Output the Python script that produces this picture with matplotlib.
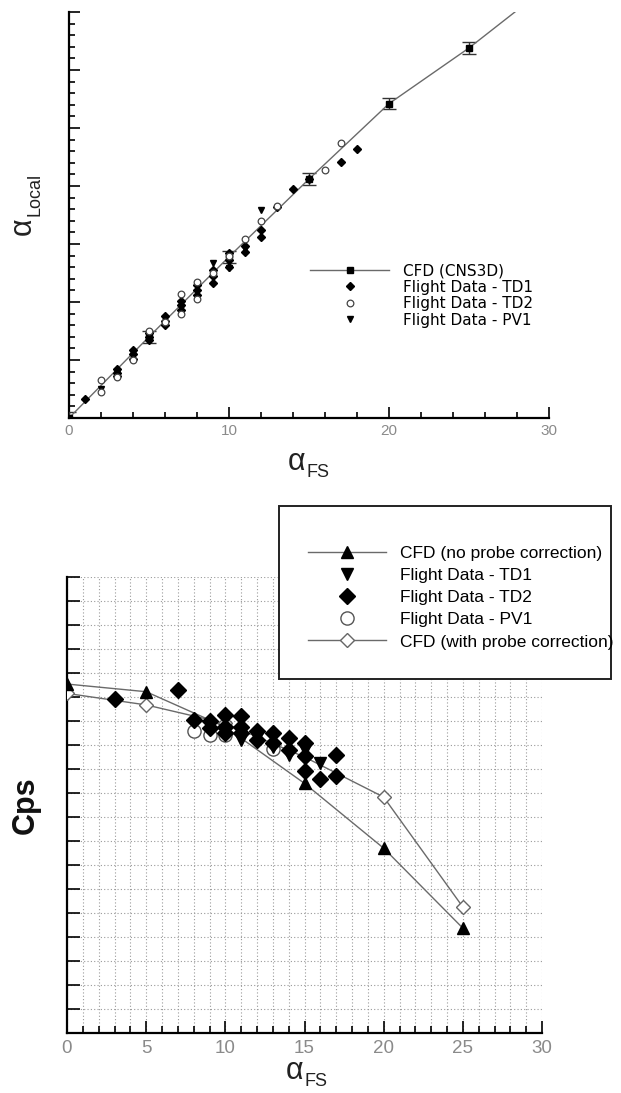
import matplotlib
matplotlib.use('Agg')
import matplotlib.pyplot as plt
from matplotlib.patches import Rectangle
from matplotlib.ticker import MultipleLocator

plt.rcParams['font.family'] = ['Liberation Sans', 'DejaVu Sans']

# ---------------- Top chart data (alpha_local vs alpha_FS) ----------------
cfd_x = [0, 5, 10, 15, 20, 25, 30]
cfd_y = [0.0, 7.0, 13.9, 20.6, 27.1, 31.9, 37.3]
cfd_err = [0.5, 0.5, 0.5, 0.5, 0.5, 0.5, 0.5]

td1_x = [1, 3, 3, 3, 4, 4, 4, 5, 5, 5, 6, 6, 6, 7, 7, 7, 8, 8, 8, 9, 9, 9,
         10, 10, 10, 11, 11, 12, 12, 13, 14, 15, 17, 18]
td1_y = [1.6, 3.6, 3.9, 4.2, 5.1, 5.5, 5.9, 6.7, 7.0, 7.3, 8.0, 8.4, 8.8,
         9.3, 9.7, 10.1, 10.6, 11.0, 11.5, 11.6, 12.2, 12.8, 13.0, 13.6, 14.2,
         14.3, 14.8, 15.6, 16.2, 18.2, 19.7, 20.6, 22.1, 23.2]

td2_x = [2, 2, 3, 4, 5, 6, 7, 7, 8, 8, 9, 10, 11, 12, 13, 16, 17]
td2_y = [3.3, 2.2, 3.5, 5.0, 7.5, 8.3, 10.7, 9.0, 11.7, 10.3, 12.5, 14.0,
         15.4, 17.0, 18.3, 21.4, 23.7]

pv1_x = [2, 3, 4, 5, 6, 7, 8, 9, 10, 11, 12]
pv1_y = [2.5, 3.9, 5.6, 6.9, 8.5, 9.5, 11.3, 13.4, 12.9, 14.6, 17.9]

top_xticks = [0, 10, 20, 30]

# ---------------- Bottom chart data (Cps vs alpha_FS) ----------------
cfd_nc_x = [0, 5, 10, 15, 20, 25]
cfd_nc_y = [-0.046, -0.078, -0.225, -0.46, -0.73, -1.063]

cfd_pc_x = [0, 5, 10, 15, 20, 25]
cfd_pc_y = [-0.085, -0.133, -0.21, -0.35, -0.517, -0.975]

b_td1_x = [9, 10, 11, 12, 13, 14, 15, 16]
b_td1_y = [-0.22, -0.24, -0.28, -0.27, -0.31, -0.34, -0.32, -0.375]

b_td2_x = [3, 7, 8, 9, 9, 10, 10, 10, 11, 11, 11, 12, 12, 13, 13, 14, 14,
           15, 15, 15, 16, 17, 17]
b_td2_y = [-0.11, -0.07, -0.196, -0.20, -0.23, -0.175, -0.225, -0.25, -0.18,
           -0.225, -0.25, -0.24, -0.28, -0.25, -0.29, -0.27, -0.32, -0.29,
           -0.345, -0.41, -0.44, -0.34, -0.43]

b_pv1_x = [8, 9, 10, 13]
b_pv1_y = [-0.24, -0.26, -0.26, -0.315]

bot_xticks = [0, 5, 10, 15, 20, 25, 30]

# ---------------- Figure ----------------
W, H = 621, 1093
fig = plt.figure(figsize=(W / 100, H / 100), dpi=100)


def fx(x):
    return x / W


def fy(y):
    return 1 - y / H


LINEC = '#6a6a6a'
TICKC = '#8a8a8a'

# ---- Top axes ----
ax1 = fig.add_axes([fx(69), fy(418), (549 - 69) / W, (418 - 12) / H])
ax1.set_xlim(0, 30)
ax1.set_ylim(0, 35)
for s in ['top', 'right']:
    ax1.spines[s].set_visible(False)
for s in ['left', 'bottom']:
    ax1.spines[s].set_linewidth(1.6)
ax1.set_xticks(top_xticks)
ax1.xaxis.set_minor_locator(MultipleLocator(2))
ax1.yaxis.set_major_locator(MultipleLocator(5))
ax1.yaxis.set_minor_locator(MultipleLocator(1))
ax1.tick_params(which='both', direction='in', width=1.2)
ax1.tick_params(which='major', length=8)
ax1.tick_params(which='minor', length=4.5)
ax1.tick_params(axis='y', labelleft=False)
ax1.tick_params(axis='x', labelsize=11, labelcolor=TICKC, pad=4)

ax1.errorbar(cfd_x, cfd_y, yerr=cfd_err, fmt='none', ecolor='#333333',
             elinewidth=1.0, capsize=5, zorder=3)
l_cfd, = ax1.plot(cfd_x, cfd_y, '-', color=LINEC, lw=1.0, marker='s', ms=5,
                  mfc='k', mec='k', label='CFD (CNS3D)', zorder=4)
l_td1, = ax1.plot(td1_x, td1_y, ls='none', marker='D', ms=3.6, mfc='k',
                  mec='k', label='Flight Data - TD1', zorder=5)
l_td2, = ax1.plot(td2_x, td2_y, ls='none', marker='o', ms=4.8, mfc='white',
                  mec='#444444', mew=0.9, label='Flight Data - TD2', zorder=6)
l_pv1, = ax1.plot(pv1_x, pv1_y, ls='none', marker='v', ms=4.8, mfc='k',
                  mec='k', label='Flight Data - PV1', zorder=5)

ax1.legend(handles=[l_cfd, l_td1, l_td2, l_pv1], loc='upper left',
           bbox_to_anchor=(fx(310), fy(263)), bbox_transform=fig.transFigure,
           frameon=False, prop={'family': 'DejaVu Sans', 'size': 11},
           handlelength=5.2, handletextpad=0.9,
           labelspacing=0.1, borderpad=0, borderaxespad=0, numpoints=1)

# top axis labels
fig.text(fx(297), fy(462), 'α', fontsize=22, ha='center', va='center',
         color='#222222')
fig.text(fx(307), fy(472), 'FS', fontsize=13, ha='left', va='center',
         color='#222222')
fig.text(fx(23), fy(226), 'α', fontsize=22, ha='center', va='center',
         rotation=90, color='#222222')
fig.text(fx(35), fy(216), 'Local', fontsize=13, ha='center', va='bottom',
         rotation=90, color='#222222')

# ---- Bottom axes ----
ax2 = fig.add_axes([fx(67), fy(1033), (542 - 67) / W, (1033 - 577) / H])
ax2.set_xlim(0, 30)
ax2.set_ylim(-1.5, 0.4)
for s in ['top', 'right']:
    ax2.spines[s].set_visible(False)
for s in ['left', 'bottom']:
    ax2.spines[s].set_linewidth(1.6)
ax2.set_xticks(bot_xticks)
ax2.xaxis.set_minor_locator(MultipleLocator(1))
ax2.yaxis.set_major_locator(MultipleLocator(0.1))
ax2.tick_params(which='both', direction='in', width=1.2)
ax2.tick_params(which='major', length=9)
ax2.tick_params(which='minor', length=5)
ax2.tick_params(axis='y', labelleft=False)
ax2.tick_params(axis='x', labelsize=13.5, labelcolor=TICKC, pad=5)
ax2.set_axisbelow(True)
ax2.grid(which='both', axis='x', ls=(0, (1, 2)), color='#9a9a9a', lw=0.8)
ax2.grid(which='major', axis='y', ls=(0, (1, 2)), color='#9a9a9a', lw=0.8)

l_pc, = ax2.plot(cfd_pc_x, cfd_pc_y, '-', color=LINEC, lw=1.0, marker='D',
                 ms=7.5, mfc='white', mec='#666666', mew=1.0,
                 label='CFD (with probe correction)', zorder=3)
l_nc, = ax2.plot(cfd_nc_x, cfd_nc_y, '-', color=LINEC, lw=1.0, marker='^',
                 ms=8.5, mfc='k', mec='k',
                 label='CFD (no probe correction)', zorder=3)
b_pv1, = ax2.plot(b_pv1_x, b_pv1_y, ls='none', marker='o', ms=9.5,
                  mfc='white', mec='#555555', mew=1.0,
                  label='Flight Data - PV1', zorder=4)
b_td1, = ax2.plot(b_td1_x, b_td1_y, ls='none', marker='v', ms=9, mfc='k',
                  mec='k', label='Flight Data - TD1', zorder=5)
b_td2, = ax2.plot(b_td2_x, b_td2_y, ls='none', marker='D', ms=8, mfc='k',
                  mec='k', label='Flight Data - TD2', zorder=6)

# legend box
box = Rectangle((fx(279), fy(679)), (611 - 279) / W, (679 - 506) / H,
                transform=fig.transFigure, facecolor='white',
                edgecolor='#222222', lw=1.4, zorder=4)
fig.add_artist(box)
leg2 = fig.legend(handles=[l_nc, b_td1, b_td2, b_pv1, l_pc], loc='upper left',
                  bbox_to_anchor=(fx(308), fy(546)),
                  bbox_transform=fig.transFigure, frameon=False,
                  fontsize=12.5, handlelength=4.5, handletextpad=0.8,
                  labelspacing=0.4, borderpad=0, borderaxespad=0,
                  numpoints=1)
leg2.set_zorder(6)

# bottom axis labels
fig.text(fx(295), fy(1071), 'α', fontsize=22, ha='center', va='center',
         color='#222222')
fig.text(fx(304), fy(1082), 'FS', fontsize=13, ha='left', va='center',
         color='#222222')
fig.text(fx(26), fy(805), 'Cps', fontsize=22, fontweight='bold',
         ha='center', va='center', rotation=90, color='#111111')

fig.savefig('out.png', dpi=100)
